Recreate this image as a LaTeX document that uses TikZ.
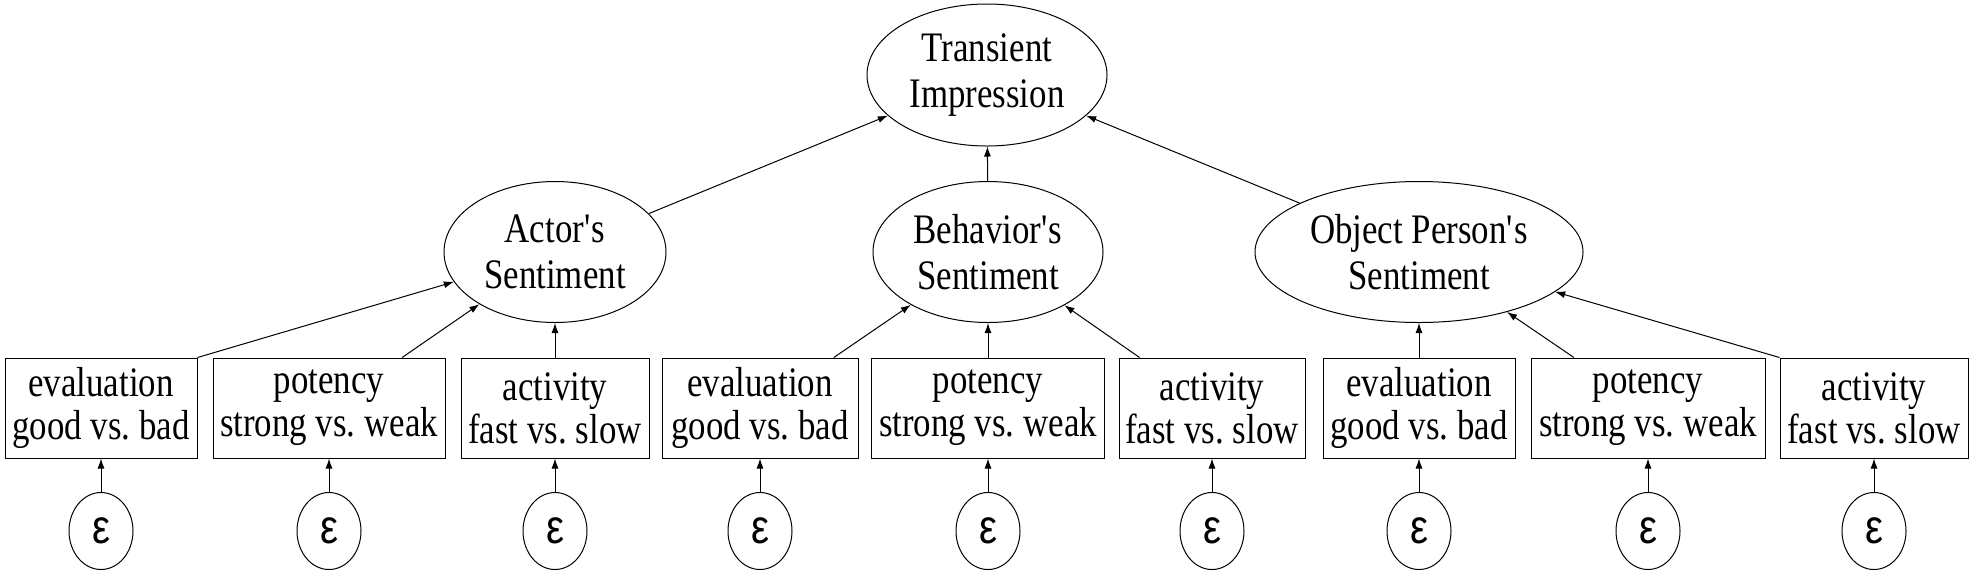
\documentclass[tikz,border=0pt]{standalone}
\usepackage{fontspec}
\setmainfont{Liberation Serif}[FakeStretch=0.83]
\newfontfamily\epsfont{Liberation Sans}[FakeStretch=0.84]
\usetikzlibrary{shapes,arrows.meta}
\newcommand{\apos}{\textquotesingle}
\frenchspacing

\begin{document}
\begin{tikzpicture}[x=0.5pt,y=-0.5pt,line width=0.5pt,
  >={Latex[length=5pt,width=3.5pt]},
  latent/.style={draw,ellipse,align=center,inner sep=0pt,minimum height=70.5pt,
    font=\fontsize{21}{23}\selectfont},
  item/.style={draw,rectangle,align=center,inner xsep=1pt,inner ysep=0pt,minimum height=50pt,
    minimum width=#1,font=\fontsize{21}{21.5}\selectfont},
  error/.style={draw,ellipse,inner sep=0pt,minimum width=32pt,minimum height=38.5pt,
    font=\epsfont\fontsize{24}{24}\selectfont}]

\useasboundingbox (0,0) rectangle (1970,575);

% top level
\node [latent,minimum width=120pt,minimum height=71pt] (impression) at (987,75) {Transient\\Impression};

% sentiments
\node [latent,minimum width=111pt] (actor) at (555,252) {Actor\apos s\\Sentiment};
\node [latent,minimum width=115pt] (behavior) at (988,252) {Behavior\apos s\\Sentiment};
\node [latent,minimum width=164pt] (object) at (1419,252) {Object Person\apos s\\Sentiment};

% dimensions
\node [item=96pt] (aeva) at (101,408) {evaluation\\good vs. bad};
\node [item=116pt] (apot) at (329,408) {potency\\strong vs. weak};
\node [item=94pt] (aact) at (555,408) {activity\\fast vs. slow};
\node [item=98pt] (beva) at (760,408) {evaluation\\good vs. bad};
\node [item=116.5pt] (bpot) at (988,408) {potency\\strong vs. weak};
\node [item=93pt] (bact) at (1212,408) {activity\\fast vs. slow};
\node [item=96pt] (oeva) at (1419,408) {evaluation\\good vs. bad};
\node [item=117pt] (opot) at (1648,408) {potency\\strong vs. weak};
\node [item=94pt] (oact) at (1874,408) {activity\\fast vs. slow};

% errors
\foreach \n/\x in {aeva/101,apot/329,aact/555,beva/760,bpot/988,bact/1212,oeva/1419,opot/1648,oact/1874} {
  \node [error] (e\n) at (\x,531) {ε};
  \draw [->] (e\n) -- (\n);
}

\draw [->] (aeva.north east) -- (actor);
\draw [->] (apot) -- (actor);
\draw [->] (aact) -- (actor);
\draw [->] (beva) -- (behavior);
\draw [->] (bpot) -- (behavior);
\draw [->] (bact) -- (behavior);
\draw [->] (oeva) -- (object);
\draw [->] (opot) -- (object);
\draw [->] (oact.north west) -- (object);

\draw [->] (actor) -- (impression);
\draw [->] (behavior) -- (impression);
\draw [->] (object) -- (impression);

\end{tikzpicture}
\end{document}
